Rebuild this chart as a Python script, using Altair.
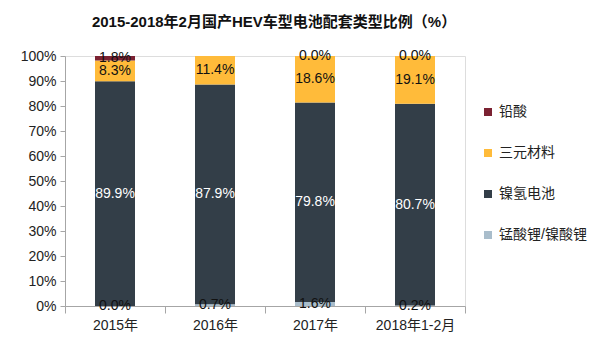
import altair as alt
import pandas as pd

years = ["2015年", "2016年", "2017年", "2018年1-2月"]
types = ["锰酸锂/镍酸锂", "镍氢电池", "三元材料", "铅酸"]
lmo = [0.0, 0.7, 1.6, 0.2]
nimh = [89.9, 87.9, 79.8, 80.7]
ncm = [8.3, 11.4, 18.6, 19.1]
lead = [1.8, 0.0, 0.0, 0.0]
lead_label = [True, False, True, True]
y_ticks = [0, 10, 20, 30, 40, 50, 60, 70, 80, 90, 100]

legend_order = ["铅酸", "三元材料", "镍氢电池", "锰酸锂/镍酸锂"]
legend_colors = ["#7B2232", "#FFBB3A", "#333E48", "#A9BDCB"]

rows = []
for i, y in enumerate(years):
    for k, (t, vals) in enumerate(zip(types, [lmo, nimh, ncm, lead])):
        show = True if t != "铅酸" else lead_label[i]
        rows.append({"year": y, "type": t, "value": vals[i], "ord": k,
                     "show": show, "white": t == "镍氢电池"})
df = pd.DataFrame(rows)

FONT = "Liberation Sans, Noto Sans CJK SC"

base = alt.Chart(df)

x = alt.X("year:N", sort=years, title=None,
          scale=alt.Scale(paddingInner=0, paddingOuter=0),
          axis=alt.Axis(labelAngle=0, tickBand="extent", tickSize=7,
                        domainColor="#A6A6A6", tickColor="#A6A6A6",
                        labelFont=FONT, labelFontSize=14, labelColor="#222",
                        labelPadding=5))

y_axis = alt.Axis(values=y_ticks, labelExpr="datum.value + '%'", labelOverlap=False,
                  ticks=True, tickSize=5, domainColor="#A6A6A6", tickColor="#A6A6A6",
                  labelFont=FONT, labelFontSize=14, labelColor="#222",
                  labelPadding=4, grid=False)
y_scale = alt.Scale(domain=[0, 100], nice=False)

bars = base.mark_bar(size=40).encode(
    x=x,
    y=alt.Y("value:Q", stack="zero", title=None, scale=y_scale, axis=y_axis),
    color=alt.Color("type:N",
                    scale=alt.Scale(domain=legend_order, range=legend_colors),
                    legend=alt.Legend(title=None, orient="none", legendX=416, legendY=49,
                                      symbolType="square", symbolSize=64,
                                      symbolStrokeWidth=0,
                                      labelFont=FONT, labelFontSize=14,
                                      labelColor="#222", rowPadding=27,
                                      labelOffset=4)),
    order=alt.Order("ord:Q", sort="ascending"),
)

labels = base.transform_filter("datum.show").transform_stack(
    stack="value", groupby=["year"], sort=[alt.SortField("ord", "ascending")],
    as_=["y0", "y1"]
).transform_calculate(
    mid="(datum.y0 + datum.y1) / 2",
    label="format(datum.value, '.1f') + '%'"
).mark_text(font=FONT, fontSize=14, baseline="middle").encode(
    x=alt.X("year:N", sort=years),
    y=alt.Y("mid:Q", title=None, scale=y_scale, axis=y_axis),
    text="label:N",
    color=alt.condition("datum.white", alt.value("white"), alt.value("#111")),
)

chart = alt.layer(bars, labels).properties(
    width=400, height=250,
    title=alt.TitleParams("2015-2018年2月国产HEV车型电池配套类型比例（%）",
                          font=FONT, fontSize=15, fontWeight="bold",
                          color="#111", anchor="middle", offset=19, dx=9),
    padding={"left": 65, "top": 56, "right": 135, "bottom": 48},
    autosize=alt.AutoSizeParams(type="none"),
).configure_view(stroke=None).configure(background="white")

chart.save("out.html", embed_options={"renderer": "svg", "actions": False})
